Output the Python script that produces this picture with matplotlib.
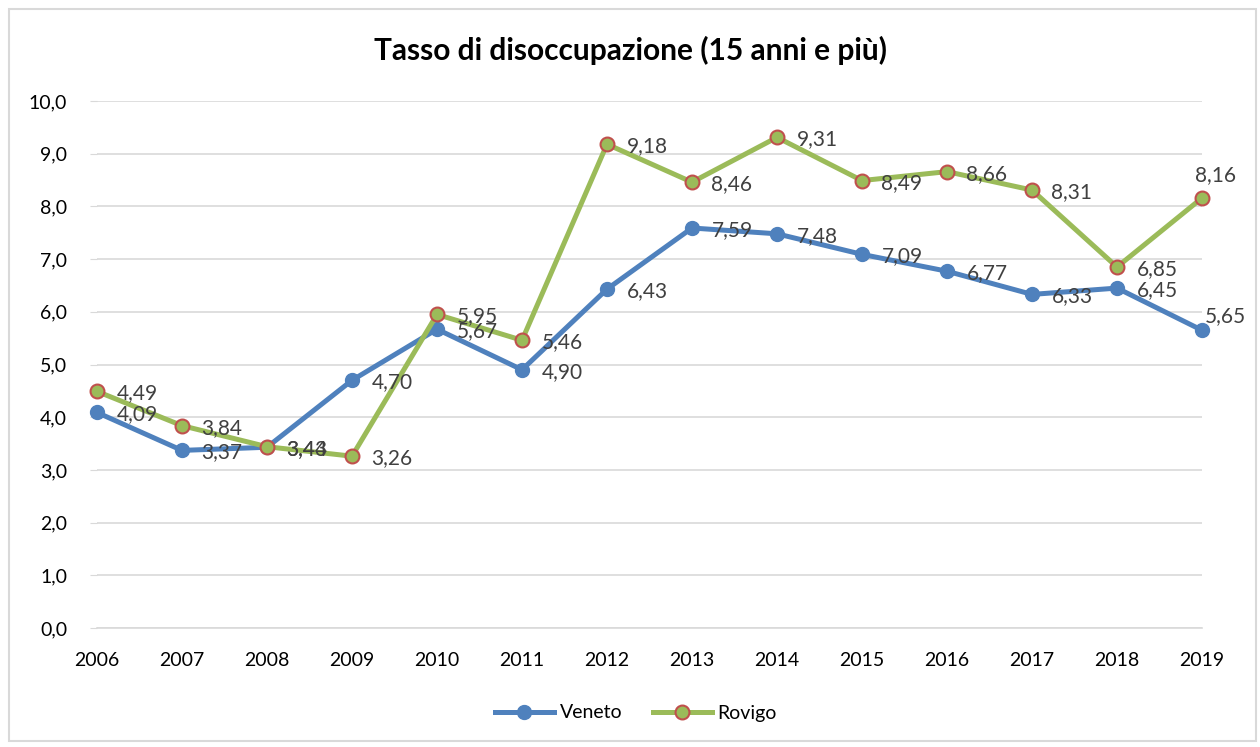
import matplotlib
matplotlib.use("Agg")
import matplotlib.pyplot as plt
from matplotlib.patches import Rectangle

years = ["2006", "2007", "2008", "2009", "2010", "2011", "2012",
         "2013", "2014", "2015", "2016", "2017", "2018", "2019"]
veneto = [4.09, 3.37, 3.43, 4.70, 5.67, 4.90, 6.43, 7.59, 7.48, 7.09, 6.77, 6.33, 6.45, 5.65]
rovigo = [4.49, 3.84, 3.44, 3.26, 5.95, 5.46, 9.18, 8.46, 9.31, 8.49, 8.66, 8.31, 6.85, 8.16]
yticks = [0, 1, 2, 3, 4, 5, 6, 7, 8, 9, 10]

plt.rcParams['font.family'] = ['Lato', 'DejaVu Sans']

fig = plt.figure(figsize=(12.6, 7.47), dpi=100)
ax = fig.add_axes([97/1260, 119/747, (1202-97)/1260, (628-101)/747])

x = list(range(len(years)))
ax.plot(x, veneto, color='#4f81bd', lw=3.6, marker='o', ms=10,
        mfc='#4f81bd', mec='#4f81bd', clip_on=False, zorder=3, label='Veneto',
        solid_joinstyle='round')
ax.plot(x, rovigo, color='#9bbb59', lw=3.6, marker='o', ms=10,
        mfc='#9bbb59', mec='#c0504d', mew=1.5, clip_on=False, zorder=4, label='Rovigo',
        solid_joinstyle='round')

def fmt(v):
    return f"{v:.2f}".replace('.', ',')

last = len(years) - 1
for xi, v in zip(x, veneto):
    off, ha = ((14, -1.5), 'left') if xi != last else ((2, 10), 'left')
    ax.annotate(fmt(v), (xi, v), xytext=off, textcoords='offset points',
                ha=ha, va='center', fontsize=15, color='#404040', zorder=5,
                annotation_clip=False)
for xi, v in zip(x, rovigo):
    off, ha = ((14, -1.5), 'left') if xi != last else ((10, 16.5), 'center')
    ax.annotate(fmt(v), (xi, v), xytext=off, textcoords='offset points',
                ha=ha, va='center', fontsize=15, color='#404040', zorder=5,
                annotation_clip=False)

ax.set_xlim(0, len(years) - 1)
ax.set_ylim(0, 10)
ax.set_yticks(yticks)
ax.set_yticklabels([f"{t:.1f}".replace('.', ',') for t in yticks], fontsize=14)
ax.set_xticks(x)
ax.set_xticklabels(years, fontsize=14)
ax.yaxis.grid(True, color='#d9d9d9', lw=1.2)
ax.set_axisbelow(True)
for s in ['top', 'right', 'left']:
    ax.spines[s].set_visible(False)
ax.spines['bottom'].set_color('#d9d9d9')
ax.spines['bottom'].set_linewidth(1.2)
ax.tick_params(axis='y', length=5, color='#d9d9d9', pad=16.5)
ax.tick_params(axis='x', length=0, pad=17)

fig.text(631/1260, 1 - 50/747, "Tasso di disoccupazione (15 anni e più)",
         ha='center', va='center', fontsize=21.5, fontweight='bold')

fig.legend(loc='center', bbox_to_anchor=(636/1260, 1 - 713/747), ncol=2,
           frameon=False, fontsize=14, handlelength=3.0, columnspacing=1.6,
           handletextpad=0.3)

fig.add_artist(Rectangle((9/1260, 6/747), 1247/1260, 732/747, transform=fig.transFigure,
                         fill=False, edgecolor='#d9d9d9', lw=1.5))

fig.savefig('out.png', dpi=100)
